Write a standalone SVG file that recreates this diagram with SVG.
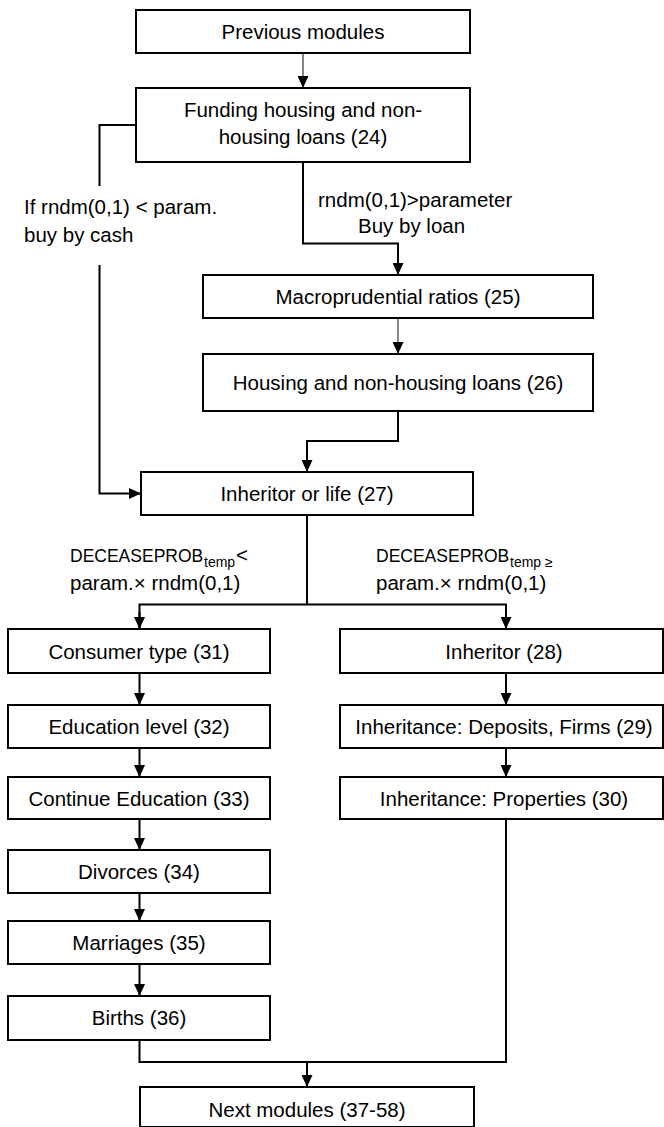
<svg xmlns="http://www.w3.org/2000/svg" width="664" height="1127" viewBox="0 0 664 1127">
<style>
  .box { fill: #fff; stroke: #000; stroke-width: 2; }
  .t { font-family: "Liberation Sans", Arial, sans-serif; font-size: 20.5px; fill: #000; }
  .c { text-anchor: middle; }
  .caps { font-family: "Liberation Sans", Arial, sans-serif; font-size: 17.5px; fill: #000; }
  .sub { font-family: "Liberation Sans", Arial, sans-serif; font-size: 14px; fill: #000; }
  .con { fill: none; stroke: #000; stroke-width: 2; }
  .thin { fill: none; stroke: #333; stroke-width: 1.2; }
</style>
<defs>
  <marker id="ah" viewBox="0 0 12 11" refX="12" refY="5.5" markerWidth="12" markerHeight="11" markerUnits="userSpaceOnUse" orient="auto">
    <path d="M0,0 L12,5.5 L0,11 Z" fill="#000"/>
  </marker>
</defs>
<rect width="664" height="1127" fill="#fff"/>

<g id="connectors">
  <line class="thin" x1="303" y1="53" x2="303" y2="88" marker-end="url(#ah)"/>
  <polyline class="con" points="136,125 99.5,125 99.5,186"/>
  <polyline class="con" points="99.5,265 99.5,493.5 141,493.5" marker-end="url(#ah)"/>
  <polyline class="con" points="303,162 303,243.5 398,243.5 398,275" marker-end="url(#ah)"/>
  <line class="thin" x1="398" y1="318" x2="398" y2="354" marker-end="url(#ah)"/>
  <polyline class="con" points="398,411 398,441 307,441 307,472" marker-end="url(#ah)"/>
  <line class="con" x1="307" y1="515" x2="307" y2="604.5"/>
  <polyline class="con" points="139.5,629 139.5,604.5 506,604.5 506,629"/>
  <line class="con" x1="139.5" y1="612" x2="139.5" y2="629" marker-end="url(#ah)"/>
  <line class="con" x1="506" y1="612" x2="506" y2="629" marker-end="url(#ah)"/>
  <line class="con" x1="139.5" y1="673" x2="139.5" y2="705" marker-end="url(#ah)"/>
  <line class="con" x1="139.5" y1="748" x2="139.5" y2="777" marker-end="url(#ah)"/>
  <line class="con" x1="139.5" y1="819" x2="139.5" y2="850" marker-end="url(#ah)"/>
  <line class="con" x1="139.5" y1="893" x2="139.5" y2="921" marker-end="url(#ah)"/>
  <line class="con" x1="139.5" y1="964" x2="139.5" y2="996" marker-end="url(#ah)"/>
  <line class="con" x1="506" y1="673" x2="506" y2="705" marker-end="url(#ah)"/>
  <line class="con" x1="506" y1="748" x2="506" y2="777" marker-end="url(#ah)"/>
  <polyline class="con" points="139.5,1040 139.5,1062 506,1062 506,819"/>
  <line class="con" x1="307" y1="1062" x2="307" y2="1087" marker-end="url(#ah)"/>
</g>

<g id="labels">
  <text class="t" x="24" y="214">If rndm(0,1) &lt; param.</text>
  <text class="t" x="24" y="242">buy by cash</text>
  <text class="t" x="318" y="207">rndm(0,1)&gt;parameter</text>
  <text class="t" x="358" y="233">Buy by loan</text>
  <text class="caps" x="70" y="562">DECEASEPROB</text>
  <text class="sub" x="204" y="567">temp</text>
  <text class="t" x="236" y="562">&lt;</text>
  <text class="t" x="70" y="590">param.× rndm(0,1)</text>
  <text class="caps" x="376" y="562">DECEASEPROB</text>
  <text class="sub" x="510" y="567">temp ≥</text>
  <text class="t" x="376" y="590">param.× rndm(0,1)</text>
</g>

<g id="n_prev"><rect class="box" x="136" y="10" width="334" height="43"/><text class="t c" x="303" y="39">Previous modules</text></g>
<g id="n_funding"><rect class="box" x="136" y="88" width="334" height="74"/><text class="t c" x="303" y="116.5">Funding housing and non-</text><text class="t c" x="303" y="143.5">housing loans (24)</text></g>
<g id="n_macro"><rect class="box" x="203" y="275" width="390" height="43"/><text class="t c" x="398" y="304">Macroprudential ratios (25)</text></g>
<g id="n_housing"><rect class="box" x="203" y="354" width="390" height="57"/><text class="t c" x="398" y="390">Housing and non-housing loans (26)</text></g>
<g id="n_life"><rect class="box" x="141" y="472" width="332" height="43"/><text class="t c" x="307" y="501">Inheritor or life (27)</text></g>
<g id="n_consumer"><rect class="box" x="8" y="629" width="262" height="44"/><text class="t c" x="139" y="658.5">Consumer type (31)</text></g>
<g id="n_education"><rect class="box" x="8" y="705" width="262" height="43"/><text class="t c" x="139" y="734">Education level (32)</text></g>
<g id="n_continue"><rect class="box" x="8" y="777" width="262" height="42"/><text class="t c" x="139" y="805.5">Continue Education (33)</text></g>
<g id="n_divorces"><rect class="box" x="8" y="850" width="262" height="43"/><text class="t c" x="139" y="879">Divorces (34)</text></g>
<g id="n_marriages"><rect class="box" x="8" y="921" width="262" height="43"/><text class="t c" x="139" y="950">Marriages (35)</text></g>
<g id="n_births"><rect class="box" x="8" y="996" width="262" height="44"/><text class="t c" x="139" y="1025">Births (36)</text></g>
<g id="n_inheritor"><rect class="box" x="340" y="629" width="323" height="44"/><text class="t c" x="504" y="658.5">Inheritor (28)</text></g>
<g id="n_deposits"><rect class="box" x="340" y="705" width="323" height="43"/><text class="t c" x="504" y="734">Inheritance: Deposits, Firms (29)</text></g>
<g id="n_properties"><rect class="box" x="340" y="777" width="323" height="42"/><text class="t c" x="504" y="805.5">Inheritance: Properties (30)</text></g>
<g id="n_next"><rect class="box" x="140" y="1087" width="334" height="40"/><text class="t c" x="307" y="1117">Next modules (37-58)</text></g>
</svg>
